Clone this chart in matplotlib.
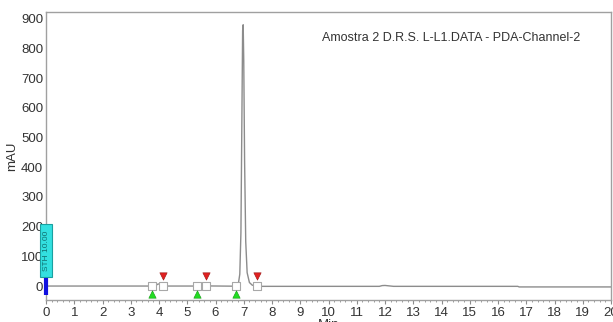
import numpy as np
import matplotlib.pyplot as plt
import matplotlib.patches as patches

plt.rcParams["font.family"] = ["Liberation Sans", "DejaVu Sans"]

# chromatogram trace (min, mAU)
time_min = [0.0, 3.6, 3.75, 3.9, 3.97, 4.05, 4.12, 4.2, 5.3, 5.45, 5.6, 6.7, 6.8,
            6.86, 6.9, 6.93, 6.96, 6.98, 7.0, 7.03, 7.07, 7.12, 7.2, 7.3, 7.5,
            11.8, 11.9, 12.0, 12.15, 12.3, 16.7, 16.75, 20.0]
signal_mau = [0.0, 0.0, 0.5, 3.0, 7.0, 6.0, 1.0, 0.0, 0.0, 1.5, 0.5, -0.5, 2.0,
              40.0, 180.0, 520.0, 860.0, 880.0, 760.0, 420.0, 150.0, 45.0, 12.0, 3.0, -1.0,
              -1.0, 1.5, 2.0, 0.5, -1.0, -1.0, -3.0, -3.0]

# peak start / end marks
peak_starts = [3.74, 5.33, 6.73]
peak_ends = [4.15, 5.66, 7.46]

title = "Amostra 2 D.R.S. L-L1.DATA - PDA-Channel-2"
x_ticks = list(range(0, 21))
y_ticks = list(range(0, 1000, 100))

fig = plt.figure(figsize=(6.13, 3.22), dpi=100)
ax = fig.add_axes([46 / 613, 22 / 322, 565 / 613, 288 / 322])

grey = "#8c8c8c"
ax.plot(time_min, signal_mau, color=grey, lw=1.0, zorder=2)

# baseline boxes at integration marks
marks = peak_starts + peak_ends
ax.scatter(marks, [0] * len(marks), marker="s", s=30, facecolor="white",
           edgecolor="#a8a8a8", linewidth=0.8, zorder=3)
ax.scatter(peak_starts, [-26] * len(peak_starts), marker="^", s=28,
           color="#22dd22", edgecolor="#119911", linewidth=0.4, zorder=4)
ax.scatter(peak_ends, [34] * len(peak_ends), marker="v", s=28,
           color="#e02020", edgecolor="#991111", linewidth=0.4, zorder=4)

# STH event box and blue bar at t=0
rect = patches.Rectangle((-0.21, 30), 0.42, 180, facecolor="#33e0e0",
                         edgecolor="#1aa0a0", linewidth=0.8, clip_on=False, zorder=5)
ax.add_patch(rect)
ax.text(0.0, 120, "STH 10.00", rotation=90, ha="center", va="center",
        fontsize=6, color="#107070", clip_on=False, zorder=6)
ax.plot([0, 0], [-30, 28], color="#1010e0", lw=3, solid_capstyle="butt",
        clip_on=False, zorder=6)

ax.text(0.945, 0.91, title, transform=ax.transAxes, ha="right", va="center",
        fontsize=9, color="#333333")

ax.set_xlim(0, 20)
ax.set_ylim(-47, 923)
ax.set_xticks(x_ticks)
ax.set_xticks(np.arange(0, 20.01, 0.2), minor=True)
ax.set_yticks(y_ticks)
ax.tick_params(axis="x", which="major", length=3, width=0.8, color=grey,
               labelsize=9.5, pad=2, labelcolor="#333333")
ax.tick_params(axis="x", which="minor", length=1.5, width=0.6, color=grey)
ax.tick_params(axis="y", length=0, labelsize=9.5, pad=2, labelcolor="#333333")

for side in ["left", "right", "top", "bottom"]:
    ax.spines[side].set_color("#a0a0a0")
    ax.spines[side].set_linewidth(1.0)

ax.set_ylabel("mAU", fontsize=9.5, color="#333333", labelpad=2)
ax.set_xlabel("Min", fontsize=9.5, color="#333333", labelpad=0)

fig.savefig("out.png", dpi=100)
